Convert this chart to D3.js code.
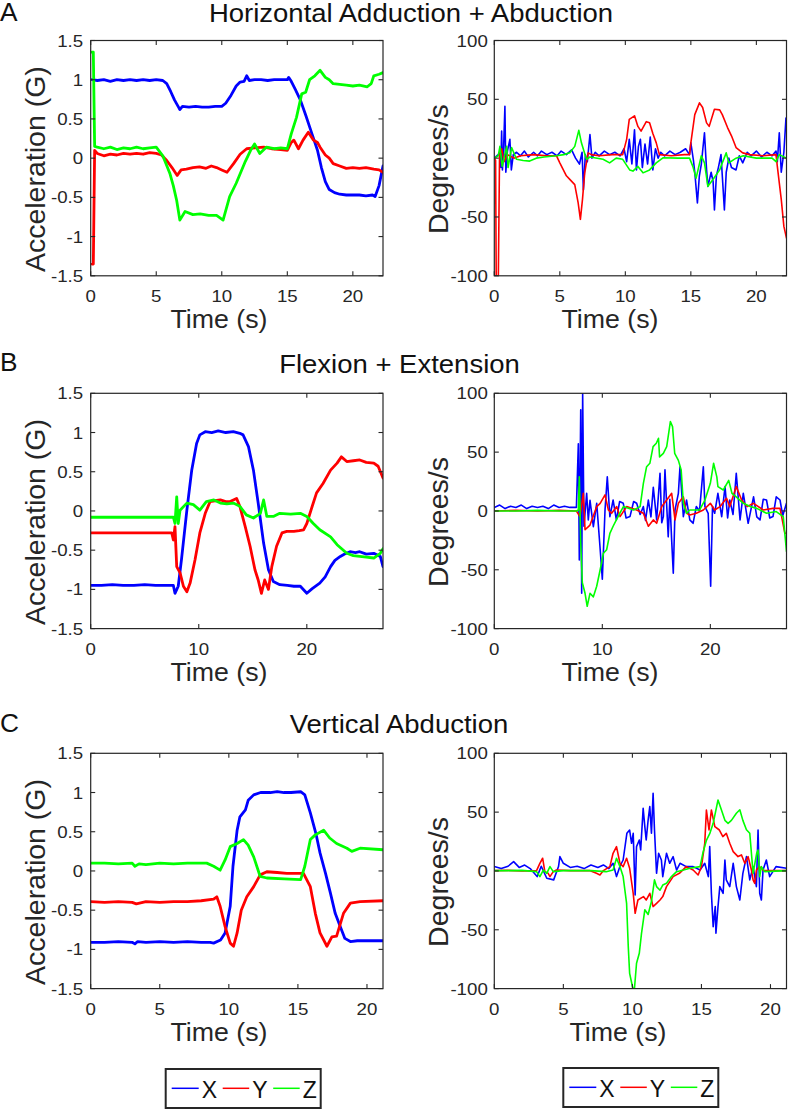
<!DOCTYPE html>
<html><head><meta charset="utf-8">
<script src="https://cdn.jsdelivr.net/npm/d3@7"></script>
<style>body{margin:0;background:#fff} text{font-family:"Liberation Sans",Arial,Helvetica,sans-serif}</style>
</head><body><svg id="c" width="788" height="1110"></svg>
<script>
// ---------- labels / ticks ----------
const seriesNames = ["X", "Y", "Z"];
const seriesColors = ["#0000ff", "#ff0000", "#00ff00"];
const panelLetters = ["A", "B", "C"];
const panelTitles = ["Horizontal Adduction + Abduction", "Flexion + Extension", "Vertical Abduction"];
const accTicks = [-1.5, -1, -0.5, 0, 0.5, 1, 1.5];
const accTickLabels = ["-1.5", "-1", "-0.5", "0", "0.5", "1", "1.5"];
const gyroTicks = [-100, -50, 0, 50, 100];
const gyroTickLabels = ["-100", "-50", "0", "50", "100"];
const timeTicksA = [0, 5, 10, 15, 20];
const timeTicksB = [0, 10, 20];
const timeTicksC = [0, 5, 10, 15, 20];
const timeMax = [22.3, 27.05, 21.16];

// ---------- A : accelerometer ----------
const accA_X = [[0.1,1.0],[0.5,0.99],[1,1.0],[1.5,0.98],[2,1.0],[2.5,0.99],[3,1.0],[3.5,0.99],[4,1.0],[4.5,0.99],[5,1.0],[5.5,0.99],[5.8,0.95],[6.1,0.85],[6.4,0.74],[6.7,0.65],[6.8,0.62],[7.0,0.66],[7.5,0.65],[8,0.66],[8.5,0.65],[9,0.65],[9.5,0.66],[10,0.66],[10.3,0.7],[10.7,0.8],[11.1,0.92],[11.4,0.97],[11.7,0.98],[11.9,1.05],[12.1,0.99],[12.5,1.0],[13,1.0],[13.5,0.99],[14,1.0],[14.5,1.0],[15,1.0],[15.1,1.03],[15.3,0.98],[15.6,0.88],[16,0.74],[16.4,0.55],[16.9,0.3],[17.3,0.1],[17.6,-0.12],[17.9,-0.3],[18.2,-0.4],[18.6,-0.44],[19,-0.46],[19.5,-0.47],[20,-0.47],[20.5,-0.47],[21,-0.48],[21.5,-0.47],[21.7,-0.49],[22.0,-0.35],[22.3,-0.1]];
const accA_Y = [[0.1,-1.35],[0.2,-1.35],[0.3,0.1],[0.5,0.06],[1,0.03],[1.5,0.05],[2,0.04],[2.5,0.06],[3,0.05],[3.5,0.06],[4,0.05],[4.5,0.07],[5,0.06],[5.4,0.04],[5.8,-0.03],[6.2,-0.12],[6.6,-0.22],[6.9,-0.15],[7.3,-0.14],[7.8,-0.12],[8.3,-0.11],[8.8,-0.13],[9.2,-0.1],[9.6,-0.12],[10,-0.15],[10.4,-0.18],[10.9,-0.07],[11.4,0.05],[11.9,0.12],[12.5,0.13],[13.2,0.14],[13.8,0.12],[14.5,0.11],[15,0.1],[15.3,0.2],[15.5,0.23],[15.85,0.12],[16.2,0.23],[16.6,0.33],[16.8,0.28],[17,0.23],[17.3,0.2],[17.5,0.14],[17.9,0.04],[18.2,0.0],[18.5,-0.07],[19,-0.1],[19.5,-0.13],[20,-0.12],[20.5,-0.13],[21,-0.12],[21.6,-0.14],[22,-0.15],[22.3,-0.18]];
const accA_Z = [[0.1,1.35],[0.2,1.35],[0.3,0.15],[0.5,0.14],[1,0.12],[1.5,0.14],[2,0.11],[2.5,0.13],[3,0.12],[3.5,0.14],[4,0.12],[4.5,0.13],[5,0.14],[5.5,0.03],[6.05,-0.2],[6.3,-0.35],[6.56,-0.54],[6.8,-0.79],[7.2,-0.68],[7.8,-0.72],[8.35,-0.71],[9,-0.73],[9.6,-0.73],[10.1,-0.79],[10.6,-0.49],[11.1,-0.32],[11.8,-0.04],[12.2,0.1],[12.5,0.18],[12.9,0.06],[13.4,0.14],[14,0.12],[14.5,0.13],[15,0.12],[15.3,0.31],[15.7,0.52],[16.1,0.82],[16.4,0.84],[16.7,1.0],[17.1,1.05],[17.5,1.12],[17.9,1.03],[18.2,1.0],[18.5,0.95],[19,0.94],[19.5,0.93],[20,0.92],[20.5,0.93],[21.1,0.91],[21.4,0.95],[21.6,1.05],[22,1.07],[22.3,1.09]];

// ---------- A : gyroscope ----------
const gyroA_X = [[0,0],[0.3,3],[0.43,4.5],[0.5,-8],[0.56,23],[0.62,-10],[0.7,5],[0.81,44],[0.88,-12],[1.0,6],[1.19,16],[1.3,-10],[1.45,3],[1.7,5],[2,2],[2.3,6],[2.6,1],[3,5],[3.3,2],[3.6,6],[4,3],[4.4,5],[4.8,2],[5.1,6],[5.5,3],[5.9,7],[6.2,0],[6.5,-5],[6.7,5],[6.8,-27],[6.95,3],[7.1,-3],[7.3,20],[7.45,0],[7.7,5],[8,2],[8.4,6],[8.8,3],[9.2,5],[9.6,2],[9.9,8],[10.1,-3],[10.3,16],[10.5,-5],[10.7,24],[10.85,-10],[11,10],[11.15,16],[11.3,-8],[11.5,12],[11.7,-5],[11.9,18],[12.1,-10],[12.3,8],[12.5,0],[12.7,5],[13,2],[13.4,6],[13.8,3],[14.2,5],[14.6,8],[14.9,3],[15.0,13],[15.2,-2],[15.3,-12],[15.5,-38],[15.65,-15],[15.8,-5],[16.04,21.6],[16.2,-10],[16.3,-24],[16.55,-12],[16.7,-20],[16.8,-44],[16.95,-15],[17.1,-8],[17.3,3],[17.4,-15],[17.56,-44],[17.7,-12],[17.9,0],[18.1,-8],[18.45,-10],[18.7,2],[18.96,-4],[19.3,5],[19.6,2],[20,6],[20.4,1],[20.8,5],[21.2,2],[21.5,6],[21.6,-3],[21.75,21.6],[21.9,-12],[22.1,5],[22.26,34]];
const gyroA_Y = [[0,0],[0.1,-2],[0.15,-110],[0.3,-110],[0.4,2],[0.56,8],[0.75,-3],[1.0,3],[1.5,0],[2,2],[3,3],[4,2],[4.75,2],[5,-4],[5.5,-15],[5.76,-18],[6.14,-22.5],[6.4,-38],[6.57,-52],[6.73,-35],[6.9,-12.5],[7.16,4.5],[7.4,3],[8,2],[9,3],[9.8,3],[10.1,16],[10.3,33],[10.7,36],[10.96,27],[11.2,23],[11.6,31],[11.85,30],[12.1,21],[12.36,13],[12.6,3],[13.5,2],[14.5,3],[14.9,3],[15,13],[15.3,37],[15.66,47],[15.9,43],[16.2,30],[16.4,27],[16.8,41.6],[17.2,41],[17.4,37],[17.8,26],[18.1,19],[18.45,9],[18.96,4.5],[19.5,3],[20.5,2],[21.5,3],[21.6,-7],[21.9,-35],[22.1,-58],[22.3,-68]];
const gyroA_Z = [[0,0],[0.3,2],[0.43,10],[0.6,-7],[0.94,10],[1.05,-8],[1.32,9],[1.7,-1],[2.2,-2],[2.7,-2.5],[3.2,0],[3.8,1],[4.75,2],[5.3,3],[5.76,4.5],[6.14,10],[6.45,23.6],[6.65,13],[7.03,-1],[7.3,1],[8.3,-1],[8.8,-4],[9.3,0],[9.8,-1],[10.33,-10],[10.58,-11],[10.96,-7],[11.35,-12.5],[11.85,-10],[12.36,-4],[12.87,0.3],[14,0],[14.9,0],[15.15,-7],[15.4,-17],[15.8,2],[16.04,-4],[16.3,-24],[16.7,-18],[17.2,-10],[17.4,-4],[17.7,4.5],[17.9,-4],[18.45,0],[19,2],[20,0],[21.2,0],[21.5,-3],[21.75,3],[22.3,0]];

// ---------- B : accelerometer ----------
const accB_X = [[0,-0.95],[1,-0.95],[2,-0.94],[3,-0.95],[4,-0.95],[5,-0.94],[6,-0.95],[7,-0.95],[7.65,-0.95],[7.8,-1.05],[8.1,-0.96],[8.4,-0.62],[8.9,0.01],[9.35,0.52],[9.8,0.86],[10.1,0.97],[10.6,1.01],[11.2,1.0],[11.8,1.02],[12.5,1.0],[13.2,1.01],[13.8,0.99],[14.1,0.97],[14.6,0.82],[15.06,0.52],[15.5,0.1],[16,-0.41],[16.45,-0.75],[16.9,-0.9],[17.5,-0.94],[18.2,-0.95],[18.8,-0.96],[19.4,-0.96],[20,-1.05],[20.5,-0.99],[21.2,-0.92],[21.7,-0.84],[22.2,-0.71],[22.6,-0.63],[23.1,-0.58],[23.5,-0.55],[24,-0.52],[24.5,-0.53],[24.9,-0.52],[25.5,-0.55],[26.2,-0.54],[26.8,-0.58],[27.05,-0.71]];
const accB_Y = [[0,-0.28],[1,-0.28],[2,-0.28],[3,-0.28],[4,-0.28],[5,-0.28],[6,-0.28],[7,-0.28],[7.5,-0.28],[7.65,-0.37],[7.8,-0.2],[7.96,-0.71],[8.27,-0.79],[8.58,-0.96],[8.9,-1.03],[9.2,-0.92],[9.66,-0.62],[10.1,-0.28],[10.6,-0.03],[11.05,0.12],[11.5,0.13],[12,0.14],[12.5,0.12],[12.9,0.12],[13.5,0.16],[13.8,0.06],[14.3,-0.2],[14.75,-0.45],[15.2,-0.75],[15.5,-0.88],[15.8,-1.05],[16.1,-0.88],[16.45,-1.0],[16.76,-0.71],[17.2,-0.45],[17.7,-0.28],[18.15,-0.26],[18.8,-0.26],[19.3,-0.25],[19.7,-0.24],[20,-0.16],[20.5,0.06],[20.9,0.23],[21.5,0.35],[22.2,0.52],[22.8,0.61],[23.2,0.69],[23.7,0.63],[24.3,0.64],[24.9,0.65],[25.5,0.62],[26.2,0.61],[26.6,0.57],[27.05,0.42]];
const accB_Z = [[0,-0.08],[1,-0.08],[2,-0.08],[3,-0.08],[4,-0.08],[5,-0.08],[6,-0.08],[7,-0.08],[7.65,-0.08],[7.8,-0.16],[7.96,0.18],[8.1,-0.16],[8.27,0.01],[8.9,0.1],[9.5,0.08],[10.1,0.01],[10.7,0.12],[11.4,0.14],[12,0.1],[12.6,0.09],[13.2,0.1],[13.8,0.06],[14.4,-0.05],[15.06,-0.09],[15.7,-0.03],[16,0.14],[16.3,-0.07],[16.9,-0.07],[17.5,-0.03],[18.5,-0.04],[19.4,-0.03],[20,-0.07],[20.6,-0.16],[21.2,-0.24],[22.2,-0.33],[22.8,-0.43],[23.7,-0.54],[24.3,-0.57],[24.9,-0.58],[25.5,-0.59],[26.2,-0.6],[26.8,-0.54],[27.05,-0.48]];

// ---------- B : gyroscope ----------
const gyroB_X = [[0,3],[0.5,5],[1,2],[1.5,4],[2,3],[2.5,5],[3,2],[3.5,4],[4,3],[4.5,4],[5,2],[5.5,5],[6,3],[6.5,4],[7,3],[7.6,3],[7.78,57],[7.87,-41.6],[8.0,86],[8.09,-70],[8.18,100],[8.3,-13],[8.55,15],[8.7,-7.7],[8.86,9],[9.17,-13.3],[9.48,6.5],[9.78,-30],[10.0,-58],[10.25,0.8],[10.46,29],[10.7,-4.8],[11.0,9.3],[11.3,-7.6],[11.6,8],[11.94,6.5],[12.2,-6],[12.56,-4.8],[12.9,8],[13.18,6.5],[13.5,-3],[13.8,3.7],[14.0,-8],[14.26,9.3],[14.5,-5],[14.72,20],[15.03,-7.6],[15.34,32],[15.5,-10],[15.65,-4.8],[15.8,35],[16.1,-22],[16.25,10],[16.42,-25],[16.57,-53],[16.73,0.8],[17.04,15],[17.19,37.6],[17.5,-4.8],[17.8,9.3],[18.1,-7.6],[18.4,-10.5],[18.7,3.7],[19.0,0],[19.35,37.6],[19.5,3.7],[19.8,-2],[20.03,-64],[20.2,3.7],[20.4,-2],[20.7,15],[21.05,-4.8],[21.36,20.7],[21.6,-6],[21.8,9.3],[22.1,-3],[22.4,32],[22.75,-7.6],[23.05,15],[23.5,-10.5],[24,12],[24.3,-5],[24.6,-7.6],[24.9,10],[25.2,9.3],[25.5,-6],[25.8,-4.8],[26.1,12],[26.45,9.3],[26.7,-4],[27.05,6.5]];
const gyroB_Y = [[0,0],[2,0.5],[4,0],[6,0.5],[7.6,0],[7.93,-4.8],[8.24,15],[8.4,-16],[8.86,-12],[9.48,3.7],[9.8,6.5],[10.25,13.6],[10.56,0.8],[10.86,-2],[11.33,3.7],[11.64,-4.8],[12.25,3.7],[13.18,0.8],[13.8,-2],[14.26,-13],[14.72,-7.6],[15.03,-10.5],[15.5,3.7],[15.96,9.3],[16.42,15],[16.73,-7.6],[17.04,6.5],[17.5,12],[17.8,-2],[18.1,-3.4],[18.7,-2],[19.35,0.8],[20,6.5],[20.4,0.8],[20.9,3.7],[21.5,10.8],[21.8,3.7],[22.4,20.7],[22.9,9.3],[23.4,3.7],[24,6.5],[24.9,0.8],[25.8,2.2],[26.45,2.2],[26.9,-19],[27.05,-19]];
const gyroB_Z = [[0,0],[2,0],[4,0.5],[6,0],[7.6,0],[7.78,0.8],[7.87,29],[8.0,-27],[8.15,-61],[8.4,-70],[8.6,-81],[8.86,-70],[9.17,-73],[9.48,-64],[9.8,-50],[10.1,-36],[10.4,-33],[10.7,-19],[11.0,-13],[11.3,-7.6],[11.95,3.7],[12.9,0.8],[13.5,3.7],[13.8,23.5],[14.1,37.6],[14.4,40.5],[14.7,54.7],[15.0,57.5],[15.2,61.8],[15.3,46],[15.65,49],[15.96,54.7],[16.3,76],[16.5,71.7],[16.7,49],[17.04,43],[17.3,34.8],[17.5,6.5],[17.8,-2],[18.1,0.8],[19.0,0.8],[19.5,9.3],[20.0,23.5],[20.3,40.5],[20.6,29],[20.7,20.7],[21.2,17.8],[21.7,26],[22.0,15],[22.4,12],[23.05,6.5],[23.7,3.7],[24.3,2.2],[25.2,-2],[26.1,-0.5],[26.75,-4.8],[27.05,-34.5]];

// ---------- C : accelerometer ----------
const accC_X = [[0,-0.91],[1,-0.91],[2,-0.9],[3,-0.91],[3.2,-0.93],[3.4,-0.9],[4,-0.91],[5,-0.9],[6,-0.91],[7,-0.9],[8,-0.91],[8.65,-0.91],[8.9,-0.92],[9.4,-0.88],[9.73,-0.79],[10.1,-0.45],[10.3,0.06],[10.6,0.52],[10.8,0.69],[11.2,0.78],[11.4,0.9],[11.8,0.97],[12.3,1.0],[13,1.0],[13.5,1.01],[14,1.0],[14.5,1.0],[15.2,1.01],[15.5,0.97],[15.9,0.74],[16.3,0.48],[16.6,0.23],[17,-0.03],[17.35,-0.28],[17.7,-0.54],[18.07,-0.71],[18.4,-0.86],[18.8,-0.9],[19.3,-0.89],[20,-0.89],[21.16,-0.89]];
const accC_Y = [[0,-0.39],[1,-0.4],[2,-0.39],[3,-0.4],[3.3,-0.42],[4,-0.39],[5,-0.4],[6,-0.39],[7,-0.39],[8,-0.38],[8.9,-0.36],[9.13,-0.33],[9.37,-0.45],[9.73,-0.71],[10.1,-0.92],[10.34,-0.96],[10.6,-0.79],[10.9,-0.5],[11.3,-0.33],[11.8,-0.2],[12.27,-0.05],[12.75,-0.01],[13.5,-0.02],[14.2,-0.03],[15.4,-0.03],[15.9,-0.2],[16.26,-0.54],[16.6,-0.79],[17.1,-0.96],[17.46,-0.84],[17.8,-0.83],[18.3,-0.54],[18.8,-0.41],[19.5,-0.39],[21.16,-0.38]];
const accC_Z = [[0,0.1],[1,0.1],[2,0.09],[3,0.1],[3.2,0.06],[3.5,0.09],[4,0.08],[5,0.1],[6,0.09],[7,0.1],[8,0.1],[8.4,0.1],[8.9,0.06],[9.37,0.01],[9.73,0.14],[10.1,0.31],[10.6,0.35],[11.06,0.4],[11.4,0.33],[11.8,0.18],[12.27,-0.07],[12.75,-0.09],[14,-0.1],[15.2,-0.11],[15.5,0.06],[15.9,0.4],[16.26,0.46],[16.86,0.52],[17.3,0.42],[17.8,0.35],[18.55,0.29],[18.9,0.25],[19.5,0.29],[21.16,0.27]];

// ---------- C : gyroscope ----------
const gyroC_X = [[0,3.7],[0.5,2],[1,4],[1.4,7.9],[1.8,3],[2.2,5],[2.6,2],[3.1,-4.8],[3.4,4],[3.8,-6.2],[4.3,-7.6],[4.65,3.7],[4.75,12.2],[5.0,6.5],[5.5,3],[6,4],[6.5,2],[7,5],[7.5,3],[7.9,5.1],[8.3,2],[8.6,6.5],[8.85,-4.8],[9.1,4],[9.33,9.3],[9.6,32],[9.8,34.8],[9.94,23.5],[10.06,32],[10.2,-20.4],[10.3,20.7],[10.5,26.3],[10.6,17.8],[10.78,53.3],[10.9,37.7],[11.0,26.3],[11.14,43.3],[11.26,54.7],[11.38,32],[11.5,66],[11.6,34.8],[11.75,-2],[11.9,15],[12.1,9.3],[12.2,-4.8],[12.47,15],[12.7,6.5],[12.95,12.2],[13.2,0.8],[13.45,6.5],[13.9,3.7],[14.4,3.7],[14.9,0.8],[15.24,6.5],[15.5,-4.8],[15.6,20.7],[15.72,-19],[15.85,-47.3],[16.0,-30.3],[16.05,-53],[16.2,-30.3],[16.33,-13.3],[16.57,-19],[16.7,9.3],[16.8,-7.6],[17.05,-13.3],[17.3,6.5],[17.53,-13.3],[17.78,-24.7],[18.0,-2],[18.26,12.2],[18.5,-7.6],[18.74,3.7],[18.98,-13.3],[19.1,34.8],[19.22,-19],[19.34,-24.7],[19.46,0.8],[19.7,9.3],[19.94,-4.8],[20.4,3.7],[21.16,2.3]];
const gyroC_Y = [[0,0.3],[1,0.5],[2,0],[3.06,0.3],[3.3,6.5],[3.5,10.8],[3.66,-0.6],[3.9,-2],[4.03,-4.8],[4.27,-0.6],[4.5,0.8],[5.5,0.3],[6.9,0.3],[7.4,-2],[7.65,-3.4],[7.9,0.3],[8.37,3.7],[8.6,15],[8.85,20.7],[9.1,6.5],[9.33,3.7],[9.58,10.8],[9.8,2.3],[10.06,-19],[10.2,-36],[10.4,-24.7],[10.8,-21.8],[11.0,-24.7],[11.26,-19],[11.5,-30.3],[11.75,-27.5],[12.0,-24.7],[12.2,-21.8],[12.47,-13.3],[12.95,-4.8],[13.4,-2],[13.9,3.7],[14.4,0.8],[14.76,-3.4],[15.0,3.7],[15.24,23.5],[15.36,51.8],[15.55,34.8],[15.72,51.8],[15.97,37.7],[16.3,34.8],[16.55,29.2],[16.8,32],[17.05,23.5],[17.3,16.4],[17.65,12.2],[17.9,13.6],[18.14,6.5],[18.38,12.2],[18.62,0.8],[18.74,-7.6],[18.86,-10.5],[18.98,0.8],[19.2,3.7],[19.5,0.3],[21.16,0.3]];
const gyroC_Z = [[0,0.3],[1,0.3],[2,0.5],[3.06,-0.6],[3.3,-4.8],[3.55,0.8],[3.8,-2],[4.03,3.7],[4.27,-0.6],[5,0.3],[6,0.3],[7,0.3],[8.1,-0.6],[8.6,0.8],[8.85,10.8],[9.1,3.7],[9.33,-4.8],[9.58,-27.5],[9.7,-64],[9.8,-87],[10.0,-98],[10.05,-100],[10.15,-100],[10.3,-78.5],[10.5,-70],[10.66,-53],[10.9,-33],[11.14,-37],[11.38,-26],[11.6,-7.6],[11.75,-13.3],[12.0,-16.4],[12.2,-12],[12.47,-10.5],[12.83,-4.8],[13.2,-0.6],[13.7,0.8],[14.16,2.3],[14.9,3.7],[15.1,15],[15.36,26],[15.6,31.7],[15.85,40.5],[16.2,60.3],[16.45,51.8],[16.7,43],[16.93,40.5],[17.17,43],[17.53,49],[17.78,52],[18.0,43],[18.26,35],[18.5,32],[18.62,15],[18.74,-2],[19.0,15],[19.1,17.8],[19.22,-4.8],[19.34,3.7],[19.58,-0.6],[21.16,0.3]];

const accData = [[accA_X, accA_Y, accA_Z], [accB_X, accB_Y, accB_Z], [accC_X, accC_Y, accC_Z]];
const gyroData = [[gyroA_X, gyroA_Y, gyroA_Z], [gyroB_X, gyroB_Y, gyroB_Z], [gyroC_X, gyroC_Y, gyroC_Z]];
const timeTicks = [timeTicksA, timeTicksB, timeTicksC];

// ---------- drawing ----------
const svg = d3.select("#c");
const INK = "#262626";
const rowTop = [40.5, 393.3, 753.3];
const plotH = 235.3;
const leftX = [90.7, 383];
const rightX = [494.3, 786.5];
const letterY = [21, 371, 732];
const titleY = [22, 372.5, 733];
const titleX = [411, 399.5, 399];
const xLabelCx = [[219, 610], [219, 610], [219, 618]];

function htext(g, x, y, str, size, anchor, sx, fill) {
  return g.append("text")
    .attr("transform", `translate(${x},${y}) scale(${sx},1)`)
    .attr("text-anchor", anchor)
    .attr("font-size", size)
    .attr("fill", fill || INK)
    .text(str);
}

svg.append("defs");
let clipId = 0;

function drawPanel(row, col) {
  const xr = col === 0 ? leftX : rightX;
  const top = rowTop[row], bottom = top + plotH;
  const x = d3.scaleLinear().domain([0, timeMax[row]]).range(xr);
  const isAcc = col === 0;
  const y = isAcc ? d3.scaleLinear().domain([-1.5, 1.5]).range([bottom, top])
                  : d3.scaleLinear().domain([-100, 100]).range([bottom, top]);
  const yT = isAcc ? accTicks : gyroTicks;
  const yTL = isAcc ? accTickLabels : gyroTickLabels;
  const data = isAcc ? accData[row] : gyroData[row];
  const g = svg.append("g");

  const id = "clip" + (clipId++);
  svg.select("defs").append("clipPath").attr("id", id)
    .append("rect").attr("x", xr[0]).attr("y", top).attr("width", xr[1] - xr[0]).attr("height", plotH);

  const line = d3.line().x(d => x(d[0])).y(d => y(d[1]));
  const lg = g.append("g").attr("clip-path", `url(#${id})`);
  data.forEach((s, i) => {
    lg.append("path").datum(s).attr("d", line)
      .attr("fill", "none").attr("stroke", seriesColors[i])
      .attr("stroke-width", isAcc ? 2.8 : 1.6)
      .attr("stroke-linejoin", "round").attr("stroke-linecap", "round");
  });

  // box
  g.append("rect").attr("x", xr[0]).attr("y", top).attr("width", xr[1] - xr[0]).attr("height", plotH)
    .attr("fill", "none").attr("stroke", INK).attr("stroke-width", 1.2);
  const tl = 4.5;
  // x ticks (inward, bottom and top)
  timeTicks[row].forEach(t => {
    const px = x(t);
    g.append("line").attr("x1", px).attr("x2", px).attr("y1", bottom).attr("y2", bottom - tl).attr("stroke", INK).attr("stroke-width", 1.1);
    g.append("line").attr("x1", px).attr("x2", px).attr("y1", top).attr("y2", top + tl).attr("stroke", INK).attr("stroke-width", 1.1);
    htext(g, px, bottom + 26, String(t), 17, "middle", 1.1);
  });
  yT.forEach((v, i) => {
    const py = y(v);
    g.append("line").attr("x1", xr[0]).attr("x2", xr[0] + tl).attr("y1", py).attr("y2", py).attr("stroke", INK).attr("stroke-width", 1.1);
    g.append("line").attr("x1", xr[1]).attr("x2", xr[1] - tl).attr("y1", py).attr("y2", py).attr("stroke", INK).attr("stroke-width", 1.1);
    htext(g, xr[0] - (isAcc ? 7.5 : 6.5), py + 6, yTL[i], 17, "end", 1.1);
  });
  // x label
  htext(g, xLabelCx[row][col], bottom + 52.5, "Time (s)", 25, "middle", 1.07);
  // y label
  const cy = (top + bottom) / 2 + 11;
  g.append("text")
    .attr("transform", `translate(${isAcc ? 45 : 448},${cy}) rotate(-90)`)
    .attr("text-anchor", "middle").attr("font-size", 28.5).attr("fill", INK)
    .text(isAcc ? "Acceleration (G)" : "Degrees/s");
}

for (let r = 0; r < 3; r++) {
  htext(svg, 0, letterY[r], panelLetters[r], 25, "start", 1.05, "#111");
  htext(svg, titleX[r], titleY[r], panelTitles[r], 25, "middle", 1.1, "#111");
  drawPanel(r, 0);
  drawPanel(r, 1);
}

// legends
function legend(x0, y0) {
  const g = svg.append("g");
  g.append("rect").attr("x", x0).attr("y", y0).attr("width", 155).attr("height", 39)
    .attr("fill", "#fff").attr("stroke", INK).attr("stroke-width", 2);
  const offs = [[6, 33, 36], [57, 83.5, 86.5], [107.5, 134, 137]];
  seriesNames.forEach((n, i) => {
    g.append("line").attr("x1", x0 + offs[i][0]).attr("x2", x0 + offs[i][1])
      .attr("y1", y0 + 19.3).attr("y2", y0 + 19.3).attr("stroke", seriesColors[i]).attr("stroke-width", 1.5);
    g.append("text").attr("x", x0 + offs[i][2]).attr("y", y0 + 29.3)
      .attr("font-size", 23).attr("fill", "#111").text(n);
  });
}
legend(165.7, 1069);
legend(563.3, 1068);
</script></body></html>
